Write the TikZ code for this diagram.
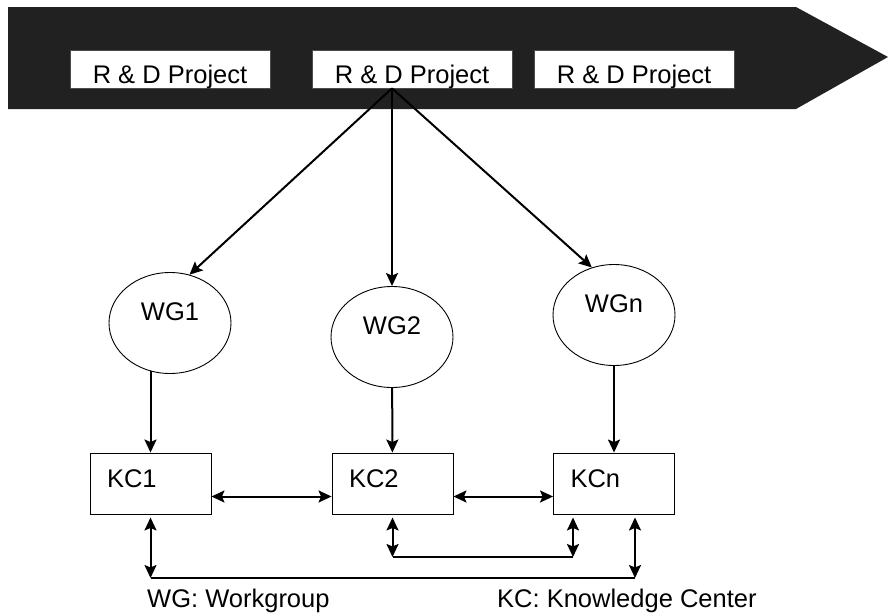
\documentclass[tikz,border=0pt]{standalone}
\usepackage{fontspec}
\setsansfont{Liberation Sans}
\usetikzlibrary{arrows.meta,calc,positioning,shapes.geometric}

\definecolor{barfill}{HTML}{212121}

\tikzset{
  projbox/.style={draw=black!70, line width=0.6pt, fill=white, minimum width=200pt,
        minimum height=38pt, inner sep=0pt, text height=28pt, text depth=0pt},
  wgnode/.style={draw, ellipse, line width=0.9pt, minimum width=122pt, minimum height=101pt,
        inner sep=0pt, text height=18pt, text depth=24pt},
  kcbox/.style={draw, line width=0.9pt, minimum width=121pt, minimum height=61pt,
        inner xsep=17pt, inner ysep=0pt, text width=87pt, align=left,
        text height=18pt, text depth=10pt},
  arr/.style={-{Stealth[length=13pt,width=12pt,inset=2.5pt]}, line width=2pt},
  dblarr/.style={{Stealth[length=13pt,width=12pt,inset=2.5pt]}-{Stealth[length=13pt,width=12pt,inset=2.5pt]},
        line width=2pt},
}

\begin{document}
\begin{tikzpicture}[x=1pt, y=-1pt, font=\sffamily\fontsize{25.5}{30}\selectfont]
  \useasboundingbox (0,0) rectangle (888,613);

  % the project pipeline
  \fill[barfill] (8,7) -- (796,7) -- (888,57) -- (796,109) -- (8,109) -- cycle;
  \node[projbox] (p1) at (170,69) {R \& D Project};
  \node[projbox] (p2) at (412,69) {R \& D Project};
  \node[projbox] (p3) at (634,69) {R \& D Project};

  % workgroups
  \node[wgnode] (wg1) at (170,323) {WG1};
  \node[wgnode] (wg2) at (392,337) {WG2};
  \node[wgnode] (wgn) at (614,315) {WGn};

  \coordinate (hub) at ([xshift=-20pt]p2.south);
  \draw[arr] (hub) -- (wg1.68);
  \draw[arr] (hub) -- (wg2.north);
  \draw[arr] (hub) -- (wgn.115);

  % knowledge centers
  \node[kcbox] (kc1) at (150.5,483.5) {KC1};
  \node[kcbox] (kc2) at (392.5,483.5) {KC2};
  \node[kcbox] (kcn) at (614,483.5) {KCn};

  \draw[arr] ([yshift=3pt]kc1.north |- wg1.south) -- (kc1.north);
  \draw[arr] (wg2) -- (kc2);
  \draw[arr] (wgn) -- (kcn);

  \draw[dblarr] ([yshift=-13pt]kc1.east) -- ([yshift=-13pt]kc2.west);
  \draw[dblarr] ([yshift=-13pt]kc2.east) -- ([yshift=-13pt]kcn.west);

  % links below the centers
  \coordinate (lowL) at (kc1.south |- 0,578);
  \coordinate (lowR) at ([xshift=21pt]kcn.south |- lowL);
  \coordinate (midL) at (kc2.south |- 0,557);
  \coordinate (midR) at ([xshift=-41pt]kcn.south |- midL);
  \draw[dblarr] ([yshift=-3pt]kc1.south) -- (lowL);
  \draw[dblarr] ([xshift=21pt,yshift=-3pt]kcn.south) -- (lowR);
  \draw[dblarr] ([yshift=-3pt]kc2.south) -- (midL);
  \draw[dblarr] ([xshift=-41pt,yshift=-3pt]kcn.south) -- (midR);
  \draw[line width=1.1pt] (lowL) -- (lowR);
  \draw[line width=1.1pt] (midL) -- (midR);

  % legend
  \node[anchor=base west, inner sep=0pt] (wglbl) at (147,607) {WG: Workgroup};
  \node[anchor=base west, inner sep=0pt] (kclbl) at (497,607) {KC: Knowledge Center};
\end{tikzpicture}
\end{document}
